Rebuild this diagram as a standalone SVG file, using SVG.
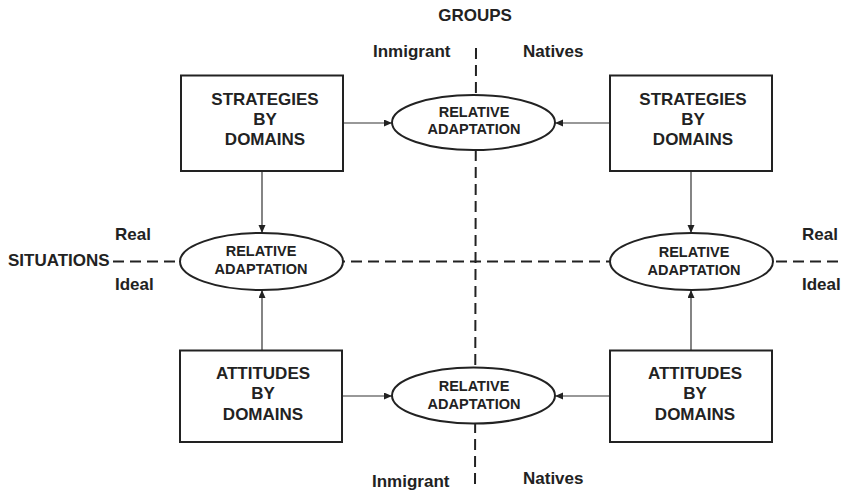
<svg xmlns="http://www.w3.org/2000/svg" width="843" height="493" viewBox="0 0 843 493">
<defs>
<marker id="ah" markerUnits="userSpaceOnUse" markerWidth="9" markerHeight="8" refX="8" refY="3.5" orient="auto">
<path d="M0,0 L8,3.5 L0,7 z" fill="#222"/>
</marker>
<style>
.box{fill:#fff;stroke:#222;stroke-width:2}
.ell{fill:#fff;stroke:#222;stroke-width:2}
.dash{fill:none;stroke:#222;stroke-width:2;stroke-dasharray:11 6}
.arr{fill:none;stroke:#333;stroke-width:1.2;marker-end:url(#ah)}
.bt{font-family:"Liberation Sans",Arial,sans-serif;font-weight:bold;font-size:17px;fill:#222;text-anchor:middle}
.et{font-family:"Liberation Sans",Arial,sans-serif;font-weight:bold;font-size:14.5px;fill:#222;text-anchor:middle}
.lb{font-family:"Liberation Sans",Arial,sans-serif;font-weight:bold;font-size:17px;fill:#222}
</style>
</defs>
<rect width="843" height="493" fill="#fff"/>
<g id="axes">
<line class="dash" x1="113" y1="261.5" x2="843" y2="261.5"/>
<line class="dash" x1="476" y1="48" x2="475" y2="490"/>
</g>
<g id="labels">
<text class="lb" x="475" y="21" text-anchor="middle">GROUPS</text>
<text class="lb" x="373" y="57">Inmigrant</text>
<text class="lb" x="523" y="57">Natives</text>
<text class="lb" x="372" y="487">Inmigrant</text>
<text class="lb" x="523" y="484">Natives</text>
<text class="lb" x="8" y="266">SITUATIONS</text>
<text class="lb" x="115" y="240">Real</text>
<text class="lb" x="115" y="290">Ideal</text>
<text class="lb" x="802" y="240">Real</text>
<text class="lb" x="802" y="290">Ideal</text>
</g>
<g id="connectors">
<line class="arr" x1="343" y1="123" x2="392" y2="123"/>
<line class="arr" x1="610" y1="123" x2="555" y2="123"/>
<line class="arr" x1="262" y1="171" x2="262" y2="233"/>
<line class="arr" x1="262" y1="350" x2="262" y2="290"/>
<line class="arr" x1="691" y1="171" x2="691" y2="233"/>
<line class="arr" x1="691" y1="350" x2="691" y2="290"/>
<line class="arr" x1="342" y1="396" x2="392" y2="396"/>
<line class="arr" x1="610" y1="396" x2="555" y2="396"/>
</g>
<g id="box-strategies-imm">
<rect class="box" x="181" y="75.5" width="162" height="95.5"/>
<text class="bt" x="265" y="105">STRATEGIES</text>
<text class="bt" x="265" y="125">BY</text>
<text class="bt" x="265" y="145">DOMAINS</text>
</g>
<g id="box-strategies-nat">
<rect class="box" x="610" y="75.5" width="162" height="95.5"/>
<text class="bt" x="693" y="105">STRATEGIES</text>
<text class="bt" x="693" y="125">BY</text>
<text class="bt" x="693" y="145">DOMAINS</text>
</g>
<g id="box-attitudes-imm">
<rect class="box" x="180" y="350.5" width="162" height="91.5"/>
<text class="bt" x="263" y="379">ATTITUDES</text>
<text class="bt" x="263" y="399">BY</text>
<text class="bt" x="263" y="420">DOMAINS</text>
</g>
<g id="box-attitudes-nat">
<rect class="box" x="610" y="350.5" width="162" height="91.5"/>
<text class="bt" x="695" y="379">ATTITUDES</text>
<text class="bt" x="695" y="399">BY</text>
<text class="bt" x="695" y="420">DOMAINS</text>
</g>
<g id="ell-top">
<ellipse class="ell" cx="473.5" cy="122.5" rx="81.5" ry="27.5"/>
<text class="et" x="474" y="117">RELATIVE</text>
<text class="et" x="474" y="134">ADAPTATION</text>
</g>
<g id="ell-left">
<ellipse class="ell" cx="261.5" cy="261.5" rx="81.5" ry="28.5"/>
<text class="et" x="261" y="256">RELATIVE</text>
<text class="et" x="261" y="274">ADAPTATION</text>
</g>
<g id="ell-right">
<ellipse class="ell" cx="691.5" cy="261.5" rx="81.5" ry="28.5"/>
<text class="et" x="694" y="256.5">RELATIVE</text>
<text class="et" x="694" y="275">ADAPTATION</text>
</g>
<g id="ell-bottom">
<ellipse class="ell" cx="473.5" cy="395.5" rx="81.5" ry="28"/>
<text class="et" x="474" y="391">RELATIVE</text>
<text class="et" x="474" y="409">ADAPTATION</text>
</g>
</svg>
